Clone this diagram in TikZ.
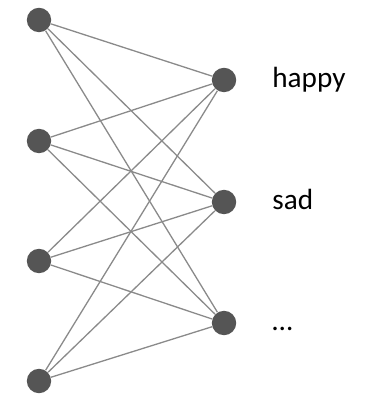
\documentclass[tikz,border=0pt]{standalone}
\usepackage{fontspec}
\setmainfont{Carlito}
\definecolor{unit}{HTML}{555555}
\definecolor{wire}{HTML}{8A8A8A}
\tikzset{
  every node/.style={font=\fontsize{14.6}{17}\selectfont, text=black},
  neuron/.style={circle, fill=unit, draw=none, minimum size=12.2pt, inner sep=0pt},
  word/.style={anchor=base west, inner sep=0pt},
  link/.style={draw=wire, line width=0.65pt},
}
\begin{document}
\begin{tikzpicture}[x=0.5pt, y=-0.5pt]
  \useasboundingbox (0,0) rectangle (375,394);

  % input layer
  \foreach \i/\y in {1/20, 2/141, 3/261, 4/381}
    \node[neuron] (in\i) at (39,\y) {};

  % output layer
  \foreach \j/\y in {1/80, 2/202, 3/323}
    \node[neuron] (out\j) at (224,\y) {};

  % every input to every output
  \foreach \i in {1,...,4}
    \foreach \j in {1,...,3}
      \draw[link] (in\i) -- (out\j);

  % labels
  \node[word] (happy) at (272,87.5) {happy};
  \node[word] (sad) at (272,209.5) {sad};
  \node[word] (more) at (272,330.5) {…};
\end{tikzpicture}
\end{document}
